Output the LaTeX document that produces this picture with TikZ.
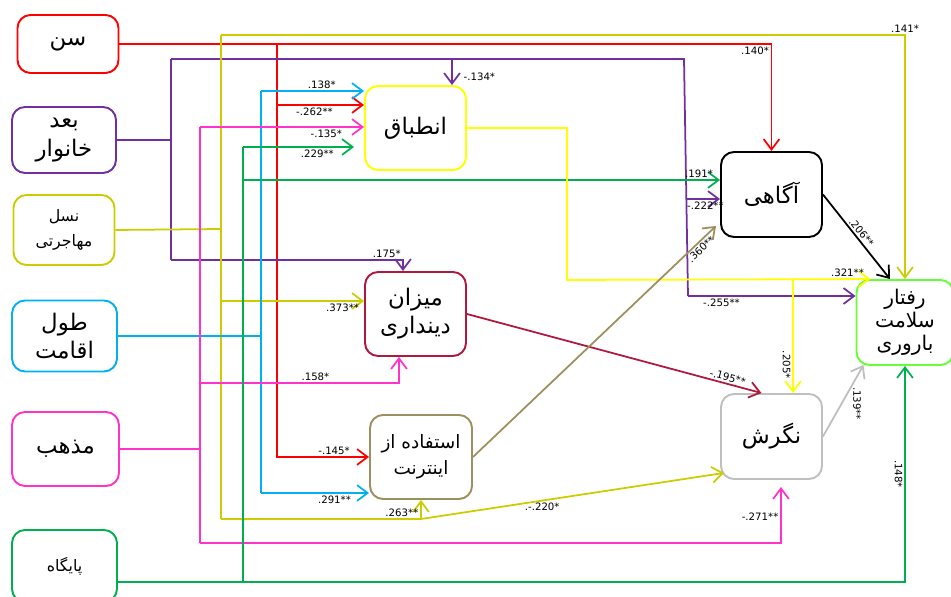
\documentclass[tikz,border=0pt]{standalone}
\usepackage{fontspec}
\usepackage{tikz}
\usetikzlibrary{arrows.meta}
\newfontfamily\farsi[Script=Arabic]{DejaVu Sans}
\newfontfamily\labfont{DejaVu Sans}
\TeXXeTstate=1
\newcommand{\fatext}[1]{\farsi\beginR #1\endR}

\definecolor{sencol}{RGB}{255,0,0}
\definecolor{bodcol}{RGB}{112,48,160}
\definecolor{naslcol}{RGB}{204,204,0}
\definecolor{tulcol}{RGB}{0,176,240}
\definecolor{mazcol}{RGB}{255,51,204}
\definecolor{paycol}{RGB}{0,176,80}
\definecolor{entcol}{RGB}{255,255,0}
\definecolor{dincol}{RGB}{176,24,61}
\definecolor{intcol}{RGB}{158,143,94}
\definecolor{negcol}{RGB}{191,191,191}
\definecolor{rafcol}{RGB}{102,255,51}

\begin{document}
\begin{tikzpicture}[x=0.02cm, y=-0.02cm, >={Straight Barb[length=6pt,width=9pt]}, line width=1pt,
  var/.style={draw, rounded corners=0.26cm, line width=1.1pt, align=center, inner sep=2pt, minimum width=2.02cm, minimum height=1.68cm, font=\farsi\fontsize{13}{16}\selectfont},
  lab/.style={font=\labfont\fontsize{5.8}{6}\selectfont, inner sep=1pt, text=black}]

\useasboundingbox (0,0) rectangle (951,597);

% predictors
\node[var, draw=sencol, minimum height=1.16cm] (sen) at (68,44) {\fatext{سن}};
\node[var, draw=bodcol, minimum width=2.08cm, minimum height=1.32cm] (bod) at (64,140) {\fatext{بعد}\\\fatext{خانوار}};
\node[var, draw=naslcol, minimum height=1.4cm, font=\farsi\fontsize{9}{14}\selectfont] (nasl) at (64,230) {\fatext{نسل}\\\fatext{مهاجرتی}};
\node[var, draw=tulcol, minimum width=2.1cm, minimum height=1.42cm] (tul) at (64.5,336) {\fatext{طول}\\\fatext{اقامت}};
\node[var, draw=mazcol, minimum width=2.14cm, minimum height=1.48cm] (maz) at (65.5,449) {\fatext{مذهب}};
\node[var, draw=paycol, minimum width=2.1cm, minimum height=1.44cm, font=\farsi\fontsize{9}{10}\selectfont] (pay) at (64.5,566) {\fatext{پایگاه}};

% mediators and outcome
\node[var, draw=entcol] (enteb) at (415.5,128) {\fatext{انطباق}};
\node[var, draw=dincol] (din) at (415.5,314) {\fatext{میزان}\\\fatext{دینداری}};
\node[var, draw=intcol, minimum width=2.04cm, font=\farsi\fontsize{10.5}{15}\selectfont] (net) at (421,457) {\fatext{استفاده از}\\\fatext{اینترنت}};
\node[var, draw=black, minimum height=1.7cm] (agahi) at (771.5,194.5) {\fatext{آگاهی}};
\node[var, draw=negcol, minimum height=1.7cm] (negar) at (771.5,436.5) {\fatext{نگرش}};
\node[var, draw=rafcol, minimum width=1.94cm, minimum height=1.7cm, font=\farsi\fontsize{11.5}{13}\selectfont] (raftar) at (905,322.5) {\fatext{رفتار}\\\fatext{سلامت}\\\fatext{باروری}};

% bus points
\coordinate (senT) at (277,44);
\coordinate (senA) at (277,105);
\coordinate (bodJ) at (171,140);
\coordinate (bodT) at (171,59);
\coordinate (bodB) at (171,260);
\coordinate (bodD) at (403,260);
\coordinate (bodE) at (452,59);
\coordinate (bodR) at (684,59);
\coordinate (bodA) at (686,199);
\coordinate (bodF) at (688,296);
\coordinate (nasJ) at (221,229);
\coordinate (nasT) at (221,35);
\coordinate (nasD) at (221,301);
\coordinate (nasB) at (221,519);
\coordinate (nasI) at (421,519);
\coordinate (tulJ) at (261,336);
\coordinate (tulT) at (261,91);
\coordinate (tulB) at (261,493);
\coordinate (mazJ) at (200,449);
\coordinate (mazT) at (200,127);
\coordinate (mazD) at (200,383);
\coordinate (mazE) at (399,383);
\coordinate (mazB) at (200,543);
\coordinate (mazN) at (781,543);
\coordinate (payT) at (243,147);
\coordinate (payA) at (243,180);
\coordinate (payB) at (243,582);
\coordinate (entR) at (567,128);
\coordinate (entD) at (567,280);
\coordinate (entN) at (793,280);
\coordinate (entW) at ([xshift=-0.2cm]enteb.west);
\coordinate (negB) at ([yshift=-0.14cm]negar.south);
\coordinate (negN) at ([xshift=-0.2cm]negar.north);
\coordinate (negSW) at ([shift={(0.08cm,0.14cm)}]negar.south west);
\coordinate (agaSW) at ([shift={(-0.08cm,0.24cm)}]agahi.south west);
\coordinate (rafNW) at ([xshift=0.3cm]raftar.north west);
\coordinate (rafN) at ([xshift=-0.3cm]raftar.north);
\coordinate (rafSW) at ([shift={(0.16cm,0.02cm)}]raftar.south west);

% age
\draw[sencol,->] (sen.east) -| node[lab, below left, pos=.5] {.140*} (agahi.north);
\draw[sencol,->] (senT) |- node[lab, above, pos=.81] {-.145*} (net.west);
\draw[sencol,->] (senA) -- node[lab, below, pos=.43] {-.262**} (senA -| enteb.west);

% family dimension
\draw[bodcol] (bod.east) -- (bodJ);
\draw[bodcol] (bodT) -- (bodB);
\draw[bodcol] (bodT) -- (bodR) -- (bodF);
\draw[bodcol,->] (bodE) -- node[lab, right=0.18cm, pos=.7] {-.134*} (bodE |- enteb.north);
\draw[bodcol,->] (bodA) -- node[lab, below, pos=.57] {-.222**} (bodA -| agahi.west);
\draw[bodcol,->] (bodF) -- node[lab, below, pos=.2] {-.255**} (bodF -| raftar.west);
\draw[bodcol,->] (bodB) -- node[lab, above, pos=.93] {.175*} (bodD) -- (bodD |- din.north);

% immigration
\draw[naslcol] (nasl.east) -- (nasJ);
\draw[naslcol] (nasT) -- (nasB);
\draw[naslcol,->] (nasT) -| node[lab, above, pos=.5] {.141*} (raftar.north);
\draw[naslcol,->] (nasD) -- node[lab, below, pos=.85] {.373**} (nasD -| din.west);
\draw[naslcol,->] (nasB) -| node[lab, above left, pos=.5] {.263**} (net.south);
\draw[naslcol,->] (nasI) -- node[lab, below, pos=.4] {.-.220*} (negSW);

% residence
\draw[tulcol] (tul.east) -- (tulJ);
\draw[tulcol] (tulT) -- (tulB);
\draw[tulcol,->] (tulT) -- node[lab, above, pos=.59] {.138*} (tulT -| enteb.west);
\draw[tulcol,->] (tulB) -- node[lab, below, pos=.68] {.291**} (tulB -| net.west);

% religion
\draw[mazcol] (maz.east) -- (mazJ);
\draw[mazcol] (mazT) -- (mazB);
\draw[mazcol,->] (mazT) -- node[lab, below, pos=.77] {-.135*} (mazT -| enteb.west);
\draw[mazcol,->] (mazD) -- node[lab, above, pos=.58] {.158*} (mazE) -- (mazE |- din.south);
\draw[mazcol,->] (mazB) -- (mazN) -- node[lab, left, pos=.47] {-.271**} (mazN |- negB);

% base
\draw[paycol] (payT) -- (payB);
\draw[paycol,->] (pay.east |- payB) -| node[lab, rotate=-90, anchor=north, pos=.75] {.148*} (raftar.south);
\draw[paycol,->] (payT) -- node[lab, below, pos=.67] {.229**} (payT -| entW);
\draw[paycol,->] (payA) -- node[lab, above, pos=.956] {.191*} (payA -| agahi.west);

% mediators
\draw[entcol,->] (enteb.east) -- (entR) -- (entD) -- node[lab, above, pos=.924] {.321**} (rafNW);
\draw[entcol,->] (entN) -- node[lab, rotate=-90, anchor=north, pos=.75] {.205*} (entN |- negar.north);
\draw[dincol,->] (din.east) -- node[lab, sloped, above, pos=.88] {-.195**} (negN);
\draw[intcol,->] (net.east) -- node[lab, sloped, below, pos=.92] {.360**} (agaSW);
\draw[black,->] (agahi.east) -- node[lab, sloped, above, pos=.5] {.206**} (rafN);
\draw[negcol,->] (negar.east) -- node[lab, xshift=0.18cm, rotate=-90, anchor=south, pos=.46] {.139**} (rafSW);
\end{tikzpicture}
\end{document}
